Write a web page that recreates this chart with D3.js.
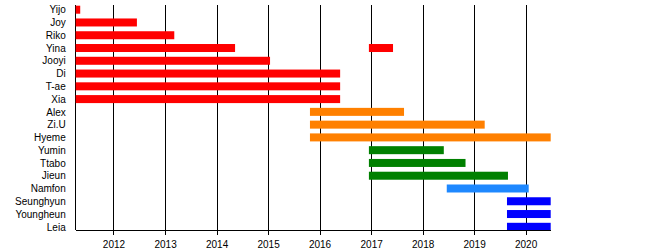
<!DOCTYPE html>
<html>
<head>
<meta charset="utf-8">
<script src="https://cdn.jsdelivr.net/npm/d3@7"></script>
<style>
  body { margin: 0; background: #fff; }
  svg text { font-family: "Liberation Sans", Arial, sans-serif; font-size: 10px; fill: #000; }
  svg line, svg path { shape-rendering: crispEdges; }
</style>
</head>
<body>
<script>
// members in display order
var members = ['Yijo', 'Joy', 'Riko', 'Yina', 'Jooyi', 'Di', 'T-ae', 'Xia', 'Alex', 'Zi.U',
               'Hyeme', 'Yumin', 'Ttabo', 'Jieun', 'Namfon', 'Seunghyun', 'Youngheun', 'Leia'];

// one entry per bar: member, start, end, group
var barMember = ['Yijo', 'Joy', 'Riko', 'Yina', 'Yina', 'Jooyi', 'Di', 'T-ae', 'Xia',
                 'Alex', 'Zi.U', 'Hyeme', 'Yumin', 'Ttabo', 'Jieun', 'Namfon',
                 'Seunghyun', 'Youngheun', 'Leia'];
var barStart = ['2011-04-08', '2011-04-08', '2011-04-08', '2011-04-08', '2016-12-16', '2011-04-08',
                '2011-04-08', '2011-04-08', '2011-04-08',
                '2015-10-25', '2015-10-25', '2015-10-25', '2016-12-16', '2016-12-16', '2016-12-16',
                '2018-06-21', '2019-08-22', '2019-08-22', '2019-08-22'];
var barEnd = ['2011-05-10', '2012-06-15', '2013-03-07', '2014-05-12', '2017-06-05', '2015-01-15',
              '2016-05-26', '2016-05-26', '2016-05-26',
              '2017-08-22', '2019-03-17', '2020-06-27', '2018-05-31', '2018-11-01', '2019-08-29',
              '2020-01-23', '2020-06-27', '2020-06-27', '2020-06-27'];
var barGroup = ['g1', 'g1', 'g1', 'g1', 'g1', 'g1', 'g1', 'g1', 'g1',
                'g2', 'g2', 'g2', 'g3', 'g3', 'g3', 'g4', 'g5', 'g5', 'g5'];

var groups = ['g1', 'g2', 'g3', 'g4', 'g5'];
var groupColors = ['#ff0000', '#ff8000', '#008000', '#1e88ff', '#0000ff'];

var periodStart = '2011-04-08';
var periodEnd = '2020-06-27';

var w = 650, h = 250;
var plotLeft = 75.7, plotRight = 550.7, plotTop = 5, plotBottom = 230;

var parse = d3.timeParse('%Y-%m-%d');

var bars = barMember.map(function(m, i) {
  return { member: m, start: parse(barStart[i]), end: parse(barEnd[i]), group: barGroup[i] };
});

var x = d3.scaleTime()
  .domain([parse(periodStart), parse(periodEnd)])
  .range([plotLeft, plotRight]);

var y = d3.scalePoint()
  .domain(members)
  .range([9.7, 226.8]);

var color = d3.scaleOrdinal().domain(groups).range(groupColors);

var svg = d3.select('body')
  .append('svg')
  .attr('width', w)
  .attr('height', h);

// vertical year grid lines
svg.append('g')
  .attr('class', 'grid')
  .attr('transform', 'translate(0,' + plotBottom + ')')
  .call(d3.axisBottom(x).ticks(d3.timeYear.every(1)).tickSize(-(plotBottom - plotTop)).tickFormat(''))
  .call(function(g) { g.select('.domain').remove(); })
  .call(function(g) { g.selectAll('line').attr('stroke', '#000').attr('stroke-width', 1); });

// left frame line
svg.append('line')
  .attr('x1', x.range()[0]).attr('x2', x.range()[0])
  .attr('y1', plotTop).attr('y2', plotBottom)
  .attr('stroke', '#000');

// bars
var barH = 8;
svg.append('g')
  .selectAll('rect')
  .data(bars)
  .enter()
  .append('rect')
  .attr('x', function(d) { return x(d.start); })
  .attr('width', function(d) { return x(d.end) - x(d.start); })
  .attr('y', function(d) { return y(d.member) - barH / 2; })
  .attr('height', barH)
  .attr('fill', function(d) { return color(d.group); });

// bottom axis
svg.append('g')
  .attr('transform', 'translate(0,' + plotBottom + ')')
  .call(d3.axisBottom(x).ticks(d3.timeYear.every(1)).tickSizeInner(5).tickSizeOuter(0)
        .tickPadding(6).tickFormat(d3.timeFormat('%Y')))
  .call(function(g) {
    g.select('.domain').attr('stroke', '#000');
    g.selectAll('line').attr('stroke', '#000');
    g.selectAll('text').attr('font-size', null).attr('font-family', null);
  });

// member labels
svg.append('g')
  .attr('transform', 'translate(' + plotLeft + ',0)')
  .call(d3.axisLeft(y).tickSize(0).tickPadding(10))
  .call(function(g) {
    g.select('.domain').remove();
    g.selectAll('text').attr('font-size', null).attr('font-family', null);
  });
</script>
</body>
</html>
